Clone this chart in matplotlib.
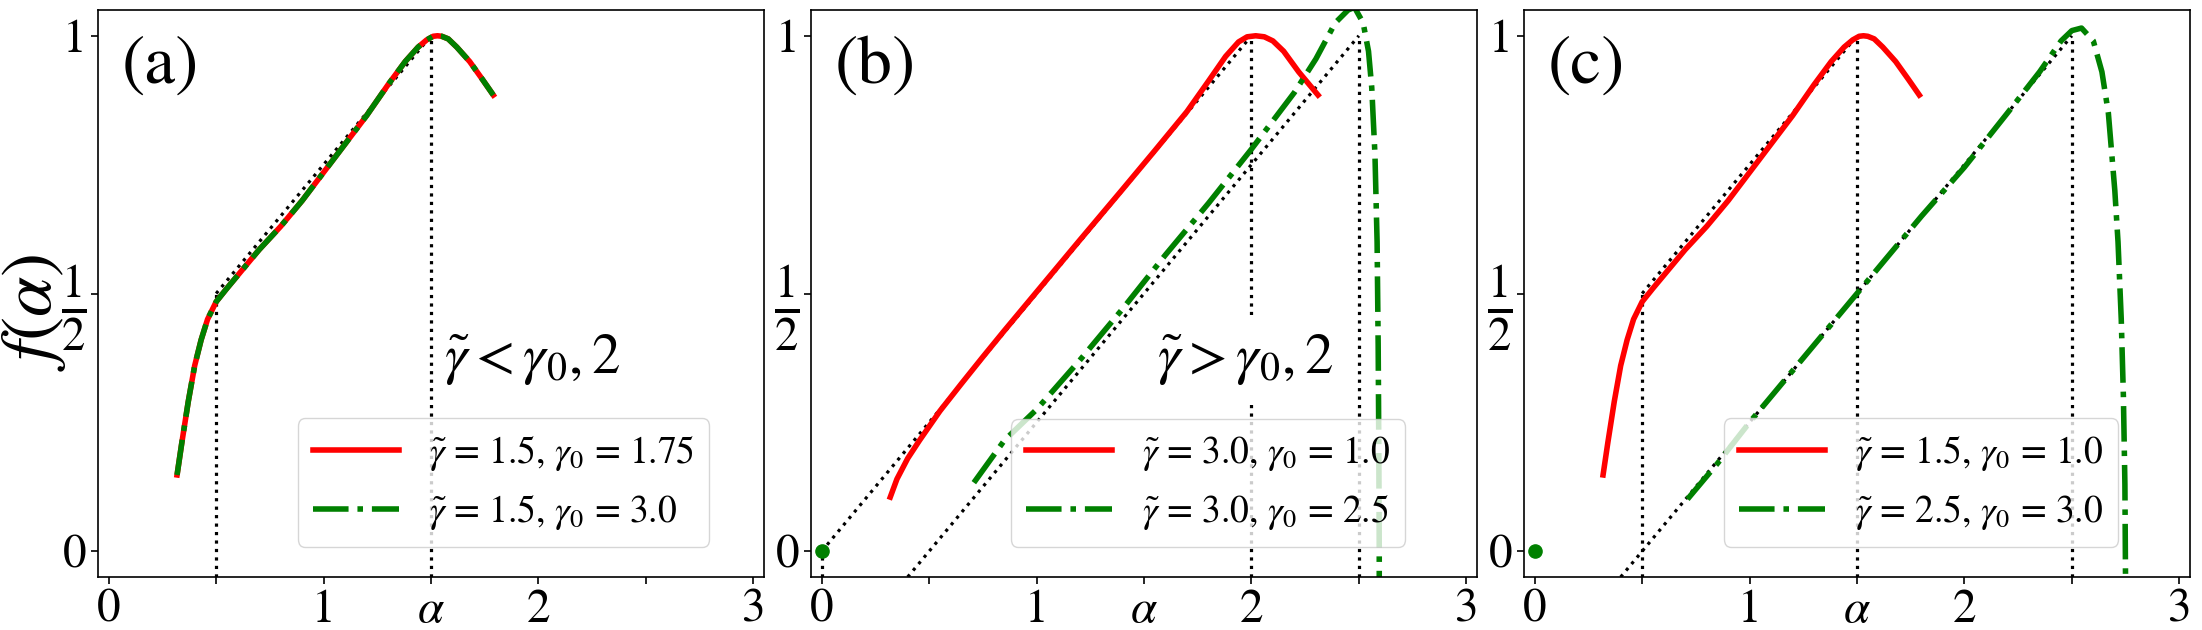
import matplotlib.pyplot as plt

plt.rcParams['font.family'] = 'STIXGeneral'
plt.rcParams['mathtext.fontset'] = 'stix'

# curve for gamma~ = 1.5 (same in panel a for both gamma_0 and in panel c)
alpha_g15 = [0.318, 0.34, 0.37, 0.40, 0.43, 0.46, 0.50, 0.55, 0.60, 0.70, 0.80, 0.90,
             1.00, 1.10, 1.20, 1.30, 1.38, 1.44, 1.48, 1.51, 1.53, 1.55, 1.58, 1.62,
             1.68, 1.74, 1.79]
f_g15 = [0.148, 0.21, 0.29, 0.36, 0.41, 0.45, 0.484, 0.51, 0.535, 0.585, 0.63, 0.68,
         0.735, 0.79, 0.845, 0.905, 0.95, 0.978, 0.992, 0.999, 1.0, 0.999, 0.994, 0.978,
         0.95, 0.915, 0.885]

# panel b, red: gamma~ = 3.0, gamma_0 = 1.0
alpha_b_red = [0.319, 0.35, 0.40, 0.455, 0.55, 0.65, 0.75, 0.85, 1.0, 1.2, 1.4, 1.55,
               1.70, 1.80, 1.88, 1.94, 1.98, 2.02, 2.06, 2.10, 2.15, 2.22, 2.31]
f_b_red = [0.105, 0.14, 0.18, 0.215, 0.272, 0.325, 0.377, 0.428, 0.503, 0.603, 0.702, 0.777,
           0.853, 0.912, 0.96, 0.988, 0.998, 1.0, 0.998, 0.99, 0.97, 0.93, 0.885]

# panel b, green: gamma~ = 3.0, gamma_0 = 2.5
alpha_b_green = [0.708, 0.85, 1.0, 1.2, 1.4, 1.6, 1.8, 2.0, 2.1, 2.2, 2.3, 2.39, 2.45,
                 2.48, 2.52, 2.545, 2.56, 2.575, 2.585, 2.59, 2.593, 2.595, 2.595]
f_b_green = [0.133, 0.215, 0.275, 0.37, 0.47, 0.575, 0.675, 0.78, 0.835, 0.89, 0.955, 1.025,
             1.05, 1.055, 1.025, 0.97, 0.90, 0.77, 0.6, 0.4, 0.2, 0.0, -0.06]

# panel c, green: gamma~ = 2.5, gamma_0 = 3.0
alpha_c_green = [0.711, 0.85, 1.0, 1.2, 1.5, 1.8, 2.0, 2.2, 2.35, 2.45, 2.50, 2.545, 2.60,
                 2.64, 2.67, 2.70, 2.715, 2.73, 2.74, 2.747, 2.75]
f_c_green = [0.101, 0.17, 0.25, 0.35, 0.5, 0.65, 0.745, 0.85, 0.93, 0.99, 1.01, 1.015, 0.99,
             0.93, 0.85, 0.70, 0.6, 0.45, 0.3, 0.13, -0.06]

# dotted guide lines: (x pair, y pair)
guides_a = [([0.5, 0.5], [-0.05, 0.5]), ([1.5, 1.5], [-0.05, 1.0]), ([0.5, 1.5], [0.5, 1.0])]
guides_b = [([0.0, 0.0], [-0.05, 0.0]), ([0.0, 2.0], [0.0, 1.0]), ([2.0, 2.0], [-0.05, 1.0]),
            ([0.4, 2.5], [-0.05, 1.0]), ([2.5, 2.5], [-0.05, 1.0])]
guides_c = [([0.5, 0.5], [-0.05, 0.5]), ([1.5, 1.5], [-0.05, 1.0]), ([0.5, 1.5], [0.5, 1.0]),
            ([0.4, 2.5], [-0.05, 1.0]), ([2.5, 2.5], [-0.05, 1.0])]

dot_point = [0.0, 0.0]

labels_a = [r'$\tilde{\gamma}$ = 1.5, $\gamma_0$ = 1.75', r'$\tilde{\gamma}$ = 1.5, $\gamma_0$ = 3.0']
labels_b = [r'$\tilde{\gamma}$ = 3.0, $\gamma_0$ = 1.0', r'$\tilde{\gamma}$ = 3.0, $\gamma_0$ = 2.5']
labels_c = [r'$\tilde{\gamma}$ = 1.5, $\gamma_0$ = 1.0', r'$\tilde{\gamma}$ = 2.5, $\gamma_0$ = 3.0']

xticks = [0, 0.5, 1, 1.5, 2, 2.5, 3]
xticklabels = ['0', '', '1', r'$\alpha$', '2', '', '3']
yticks = [0, 0.5, 1]
yticklabels = ['0', r'$\frac{1}{2}$', '1']

fig = plt.figure(figsize=(22.02, 6.30), dpi=100)
lefts = [98, 811, 1524]
axes = [fig.add_axes([l / 2202, 53 / 630, 666 / 2202, 567 / 630]) for l in lefts]


def setup(ax, tag):
    ax.set_xlim(-0.05, 3.05)
    ax.set_ylim(-0.05, 1.05)
    ax.set_xticks(xticks, xticklabels)
    ax.set_yticks(yticks, yticklabels)
    ax.tick_params(labelsize=34, length=5, width=1.2)
    # the 1/2 fraction is drawn small by mathtext, so give it a bigger size
    ax.get_yticklabels()[1].set_fontsize(48)
    for s in ax.spines.values():
        s.set_linewidth(1.2)
    ax.text(0.036, 0.955, tag, transform=ax.transAxes, fontsize=50, va='top', ha='left')


def guides(ax, lines):
    for xs, ys in lines:
        ax.plot(xs, ys, ':', color='black', lw=2.3)


def legend(ax):
    ax.legend(loc='lower left', bbox_to_anchor=(0.30, 0.053), borderaxespad=0,
              fontsize=27, handlelength=2.3)


ax = axes[0]
guides(ax, guides_a)
ax.plot(alpha_g15, f_g15, '-', color='red', lw=4, label=labels_a[0])
ax.plot(alpha_g15, f_g15, '-.', color='green', lw=4, label=labels_a[1])
ax.text(1.56, 0.345, r'$\tilde{\gamma}<\gamma_0, 2$', fontsize=41)
setup(ax, '(a)')
legend(ax)

ax = axes[1]
guides(ax, guides_b)
ax.plot(alpha_b_red, f_b_red, '-', color='red', lw=4, label=labels_b[0])
ax.plot(alpha_b_green, f_b_green, '-.', color='green', lw=4, label=labels_b[1])
ax.plot(dot_point[0], dot_point[1], 'o', color='green', ms=9.5)
ax.text(1.56, 0.345, r'$\tilde{\gamma}>\gamma_0, 2$', fontsize=41, zorder=5,
        bbox=dict(boxstyle='square,pad=0.3', facecolor='white', edgecolor='none'))
setup(ax, '(b)')
legend(ax)

ax = axes[2]
guides(ax, guides_c)
ax.plot(alpha_g15, f_g15, '-', color='red', lw=4, label=labels_c[0])
ax.plot(alpha_c_green, f_c_green, '-.', color='green', lw=4, label=labels_c[1])
ax.plot(dot_point[0], dot_point[1], 'o', color='green', ms=9.5)
setup(ax, '(c)')
legend(ax)

fig.text(34 / 2202, 1 - 312 / 630, r'$f(\alpha)$', rotation=90, fontsize=52,
         ha='center', va='center')

fig.savefig('out.png', dpi=100)
